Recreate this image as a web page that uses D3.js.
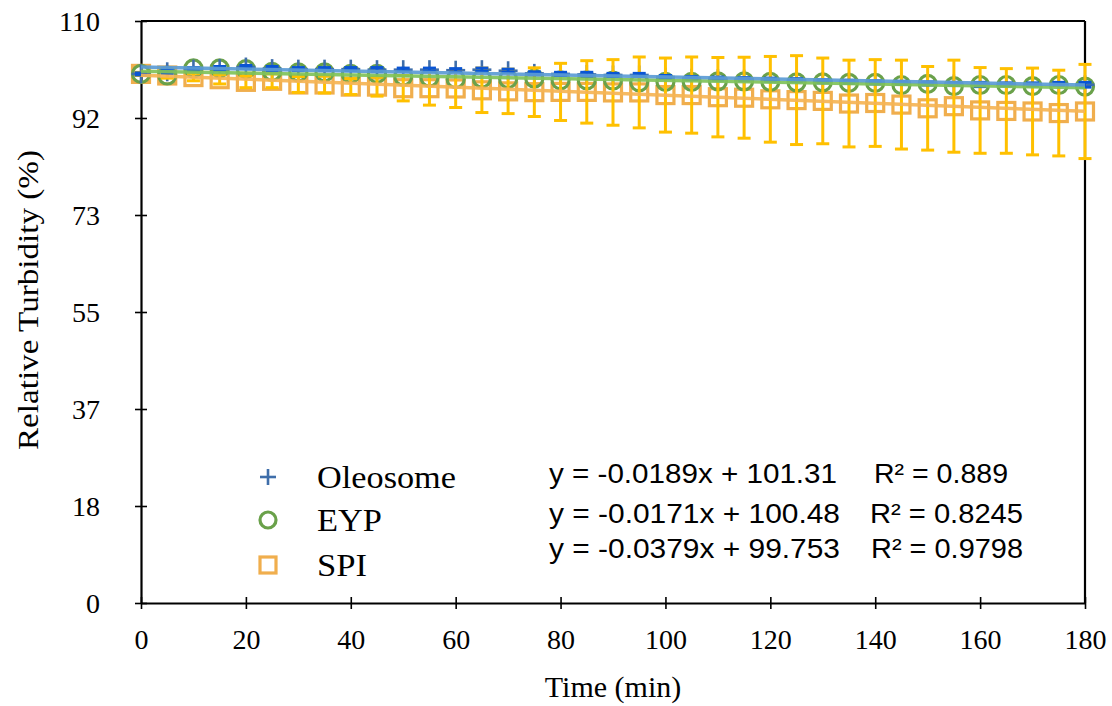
<!DOCTYPE html>
<html>
<head>
<meta charset="utf-8">
<script src="https://cdn.jsdelivr.net/npm/d3@7"></script>
<style>
  html, body { margin: 0; padding: 0; background: #fff; }
  svg { display: block; }
</style>
</head>
<body>
<svg id="chart" width="1112" height="706"></svg>
<script>
// ---------------- data ----------------
const time = [0,5,10,15,20,25,30,35,40,45,50,55,60,65,70,75,80,85,90,95,100,105,110,115,120,125,130,135,140,145,150,155,160,165,170,175,180];

const oleosome = [100,100.4,100.9,101.0,101.3,101.0,100.9,100.9,100.9,100.8,100.8,100.8,100.7,100.8,100.6,100.1,100.0,99.9,99.8,99.8,99.4,99.2,99.1,99.0,98.9,98.8,98.6,98.5,98.4,98.3,98.2,98.1,98.0,98.0,98.0,98.1,97.95];
const oleosomeErr = [0.2,0.3,0.3,0.4,0.3,0.4,0.3,0.3,0.3,0.4,0.3,0.3,0.3,0.3,0.3,0.3,0.3,0.4,0.3,0.3,0.3,0.3,0.3,0.3,0.3,0.3,0.3,0.3,0.3,0.3,0.3,0.3,0.4,0.3,0.3,0.3,0.45];

const eyp = [100,99.7,101.05,101.05,100.9,100.4,100.3,100.3,100.0,100.0,99.5,99.3,99.0,99.1,99.0,99.1,98.8,98.8,98.75,98.4,98.5,98.5,98.6,98.6,98.5,98.4,98.4,98.3,98.3,97.9,98.1,97.7,97.9,97.9,97.7,97.9,97.6];

const spi = [100,99.7,99.4,99.0,98.5,98.7,98.0,98.0,97.6,97.6,97.3,97.3,97.25,96.9,96.7,96.55,96.6,96.6,96.5,96.5,96.0,96.0,95.6,95.5,95.2,95.05,94.9,94.4,94.5,94.2,93.5,93.9,93.1,93.0,92.9,92.6,92.9];
const spiErr = [0.3,0.5,0.7,0.9,1.1,1.3,1.5,1.6,1.5,1.8,2.4,3.2,3.6,4.2,4.2,4.6,5.4,5.9,6.2,6.7,7.0,7.2,7.5,7.65,8.1,8.4,8.1,8.2,8.2,8.4,7.9,8.7,8.1,8.0,8.2,8.1,8.9];

// linear trendlines (slope, intercept) as shown on the chart
const trendSlopes = [-0.0189, -0.0171, -0.0379];
const trendIntercepts = [101.31, 100.48, 99.753];
const equations = ["y = -0.0189x + 101.31", "y = -0.0171x + 100.48", "y = -0.0379x + 99.753"];
const rSquared = ["R² = 0.889", "R² = 0.8245", "R² = 0.9798"];
const seriesNames = ["Oleosome", "EYP", "SPI"];

const xTicks = [0,20,40,60,80,100,120,140,160,180];
const yTickLabels = ["0","18","37","55","73","92","110"];

// ---------------- layout ----------------
const SERIF = "'Liberation Serif', 'Times New Roman', serif";
const SANS = "'Liberation Sans', Arial, sans-serif";
const svg = d3.select("#chart");
const M = {left: 141, right: 1085, top: 21, bottom: 603};
const x = d3.scaleLinear().domain([0,180]).range([M.left, M.right]);
const y = d3.scaleLinear().domain([0,110]).range([M.bottom, M.top]);
const yTickVals = yTickLabels.map((d,i) => i * 110 / (yTickLabels.length - 1));

const C = {
  oleo: "#3f6eaa", oleoErr: "#0a55d4", oleoTrend: "#5b9bd5",
  eyp: "#6aa14a", eypTrend: "#80c25a",
  spi: "#f0ae4d", spiErr: "#ffc000", spiTrend: "#f5b455"
};

// frame (top & right)
svg.append("line").attr("x1", M.left).attr("x2", M.right).attr("y1", M.top).attr("y2", M.top)
  .attr("stroke", "#000").attr("stroke-width", 2.2);
svg.append("line").attr("x1", M.right).attr("x2", M.right).attr("y1", M.top).attr("y2", M.bottom)
  .attr("stroke", "#000").attr("stroke-width", 2.2);

// axes
const yAxis = d3.axisLeft(y).tickValues(yTickVals).tickFormat((d,i) => yTickLabels[i]).tickSizeInner(6).tickSizeOuter(0).tickPadding(35);
const gy = svg.append("g").attr("transform", `translate(${M.left},0)`).call(yAxis);
const xAxis = d3.axisBottom(x).tickValues(xTicks).tickFormat(d3.format("d")).tickSizeInner(6).tickSizeOuter(0).tickPadding(20);
const gx = svg.append("g").attr("transform", `translate(0,${M.bottom})`).call(xAxis);
[gx, gy].forEach(g => {
  g.attr("font-family", SERIF).attr("font-size", 28);
  g.select(".domain").attr("stroke", "#000").attr("stroke-width", 2.2);
  g.selectAll(".tick line").attr("stroke", "#000").attr("stroke-width", 1.6);
  g.selectAll(".tick text").style("font-family", SERIF).style("font-size", "28px").attr("fill", "#000");
});
// ticks cross the axis line
gy.selectAll(".tick line").attr("x1", 6).attr("x2", -6);
gx.selectAll(".tick line").attr("y1", -6).attr("y2", 6);
gy.selectAll(".tick text").attr("dy", "0.35em");
gx.selectAll(".tick text").attr("dy", "0.71em");

// axis titles
svg.append("text").attr("x", (M.left + M.right) / 2).attr("y", 697).attr("text-anchor", "middle")
  .style("font-family", SERIF).style("font-size", "30px").text("Time (min)");
svg.append("text").attr("transform", `translate(38,${(M.top + M.bottom) / 2 - 12}) rotate(-90)`).attr("text-anchor", "middle")
  .style("font-family", SERIF).style("font-size", "30px")
  .attr("textLength", 300).attr("lengthAdjust", "spacingAndGlyphs")
  .text("Relative Turbidity (%)");

// ---------------- marks ----------------
const plot = svg.append("g");

// SPI squares
const sq = 17;
plot.selectAll("rect.spi").data(time).join("rect").attr("class", "spi")
  .attr("x", (d) => x(d) - sq/2).attr("y", (d,i) => y(spi[i]) - sq/2)
  .attr("width", sq).attr("height", sq)
  .attr("fill", "none").attr("stroke", C.spi).attr("stroke-width", 3.2);

// EYP circles
plot.selectAll("circle.eyp").data(time).join("circle").attr("class", "eyp")
  .attr("cx", d => x(d)).attr("cy", (d,i) => y(eyp[i])).attr("r", 8.5)
  .attr("fill", "none").attr("stroke", C.eyp).attr("stroke-width", 3.2);

// Oleosome plus markers
const ph = 9.5;
const plus = plot.selectAll("g.oleo").data(time).join("g").attr("class", "oleo")
  .attr("transform", (d,i) => `translate(${x(d)},${y(oleosome[i])})`);
plus.append("line").attr("x1", -ph).attr("x2", ph).attr("stroke", C.oleo).attr("stroke-width", 2.6);
plus.append("line").attr("y1", -ph).attr("y2", ph).attr("stroke", C.oleo).attr("stroke-width", 2.6);

// error bars
function errorBars(vals, errs, color, cls, capW, sw) {
  const g = plot.selectAll("g." + cls).data(time).join("g").attr("class", cls);
  g.append("line").attr("x1", d => x(d)).attr("x2", d => x(d))
    .attr("y1", (d,i) => y(vals[i] + errs[i])).attr("y2", (d,i) => y(vals[i] - errs[i]))
    .attr("stroke", color).attr("stroke-width", sw);
  [1, -1].forEach(s => {
    g.append("line").attr("x1", d => x(d) - capW/2).attr("x2", d => x(d) + capW/2)
      .attr("y1", (d,i) => y(vals[i] + s*errs[i])).attr("y2", (d,i) => y(vals[i] + s*errs[i]))
      .attr("stroke", color).attr("stroke-width", sw);
  });
}
errorBars(spi, spiErr, C.spiErr, "spierr", 13, 3);
errorBars(oleosome, oleosomeErr, C.oleoErr, "oleoerr", 13, 3);

// trendlines
const trendColors = [C.oleoTrend, C.eypTrend, C.spiTrend];
[2, 1, 0].forEach(k => {
  plot.append("line")
    .attr("x1", x(0)).attr("y1", y(trendIntercepts[k]))
    .attr("x2", x(180)).attr("y2", y(trendIntercepts[k] + trendSlopes[k] * 180))
    .attr("stroke", trendColors[k]).attr("stroke-width", 3.5).attr("stroke-opacity", 0.92);
});

// ---------------- legend ----------------
const legY = [477, 520, 565];
const legX = 268;
const leg = svg.append("g");
leg.append("line").attr("x1", legX - 8).attr("x2", legX + 8).attr("y1", legY[0]).attr("y2", legY[0]).attr("stroke", C.oleo).attr("stroke-width", 2.6);
leg.append("line").attr("x1", legX).attr("x2", legX).attr("y1", legY[0] - 8).attr("y2", legY[0] + 8).attr("stroke", C.oleo).attr("stroke-width", 2.6);
leg.append("circle").attr("cx", legX).attr("cy", legY[1]).attr("r", 8).attr("fill", "none").attr("stroke", C.eyp).attr("stroke-width", 3.2);
leg.append("rect").attr("x", legX - 8).attr("y", legY[2] - 8).attr("width", 16).attr("height", 16).attr("fill", "none").attr("stroke", C.spi).attr("stroke-width", 3.2);
const legW = [139, 65, 50];
leg.selectAll("text.name").data(seriesNames).join("text").attr("class", "name")
  .attr("x", 317).attr("y", (d,i) => legY[i] + 11)
  .style("font-family", SERIF).style("font-size", "31px")
  .attr("textLength", (d,i) => legW[i]).attr("lengthAdjust", "spacingAndGlyphs")
  .text(d => d);

// equations
const eqY = [483, 523, 558];
svg.selectAll("text.eq").data(equations).join("text").attr("class", "eq")
  .attr("x", 549).attr("y", (d,i) => eqY[i])
  .style("font-family", SANS).style("font-size", "27px")
  .attr("textLength", (d,i) => [288, 291, 291][i]).attr("lengthAdjust", "spacingAndGlyphs")
  .text(d => d);
svg.selectAll("text.r2").data(rSquared).join("text").attr("class", "r2")
  .attr("x", (d,i) => [874, 870, 871][i]).attr("y", (d,i) => eqY[i])
  .style("font-family", SANS).style("font-size", "27px")
  .attr("textLength", (d,i) => [134, 153, 152][i]).attr("lengthAdjust", "spacingAndGlyphs")
  .text(d => d);
</script>
</body>
</html>
